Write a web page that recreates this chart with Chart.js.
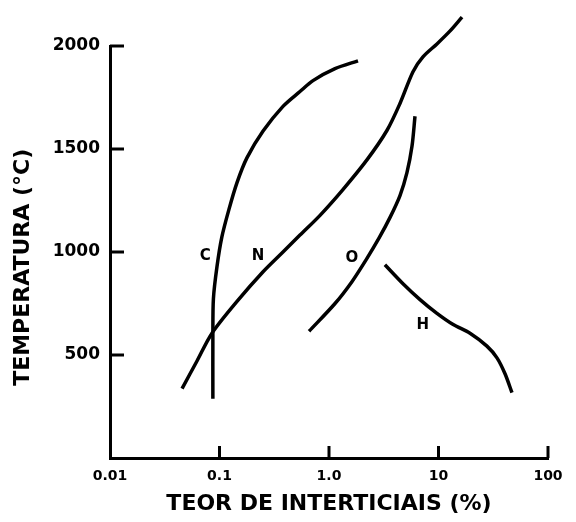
<!DOCTYPE html>
<html>
<head>
<meta charset="utf-8">
<script src="https://cdn.jsdelivr.net/npm/chart.js@4"></script>
<style>
  html, body { margin: 0; padding: 0; background: #fff; }
  #wrap { width: 576px; height: 522px; }
</style>
</head>
<body>
<div id="wrap"><canvas id="chart"></canvas></div>
<script>
// valores (teor em %, temperatura em °C)
const cTeor = [0.087, 0.087, 0.088, 0.0948, 0.105, 0.122, 0.1445, 0.178, 0.25, 0.38, 0.543, 0.714, 1.135, 1.84];
const cTemp = [288, 600, 774, 928, 1072, 1207, 1337, 1457, 1587, 1707, 1779, 1832, 1890, 1928];

const nTeor = [0.0455, 0.0623, 0.0854, 0.1445, 0.25, 0.38, 0.543, 0.828, 1.34, 2.22, 3.39, 4.45, 5.85, 7.21, 9.68, 12.7, 16.4];
const nTemp = [337, 471, 606, 760, 904, 1000, 1082, 1178, 1303, 1447, 1591, 1721, 1875, 1947, 2010, 2072, 2140];

const oTeor = [0.657, 1.135, 1.62, 2.18, 2.86, 3.61, 4.45, 5.15, 5.73, 6.1];
const oTemp = [615, 750, 856, 962, 1067, 1168, 1274, 1385, 1514, 1659];

const hTeor = [3.24, 4.74, 6.78, 9.68, 13.5, 19.4, 27.7, 34.2, 40.5, 46.9];
const hTemp = [938, 846, 769, 702, 649, 606, 543, 486, 409, 317];

const xTicks = [0.01, 0.1, 1, 10, 100];
const xTickLabels = ['0.01', '0.1', '1.0', '10', '100'];
const yTicks = [500, 1000, 1500, 2000];

// rótulos das curvas
const curveNames = ['C', 'N', 'O', 'H'];
const labelTeor = [0.074, 0.225, 1.62, 7.2];
const labelTemp = [978, 978, 968, 645];

const FONT = "'DejaVu Sans', sans-serif";

function pts(xs, ys) {
    return xs.map((x, i) => ({ x: x, y: ys[i] }));
}

function curve(label, xs, ys) {
    return {
        label: label,
        data: pts(xs, ys),
        borderColor: '#000',
        borderWidth: 3.5,
        pointRadius: 0,
        tension: 0.3,
        fill: false,
        clip: false
    };
}

// ticks voltados para dentro + letras das curvas
const extras = {
    id: 'extras',
    afterDatasetsDraw(chart) {
        const ctx = chart.ctx;
        const xs = chart.scales.x, ys = chart.scales.y;
        const a = chart.chartArea;
        ctx.save();
        ctx.strokeStyle = '#000';
        ctx.lineWidth = 3;
        yTicks.forEach(v => {
            const py = ys.getPixelForValue(v);
            ctx.beginPath();
            ctx.moveTo(a.left, py);
            ctx.lineTo(a.left + 14, py);
            ctx.stroke();
        });
        xTicks.slice(1).forEach(v => {
            const px = xs.getPixelForValue(v);
            ctx.beginPath();
            ctx.moveTo(px, a.bottom);
            ctx.lineTo(px, a.bottom - 12);
            ctx.stroke();
        });
        ctx.fillStyle = '#000';
        ctx.font = 'bold 15px ' + FONT;
        ctx.textAlign = 'center';
        ctx.textBaseline = 'middle';
        curveNames.forEach((n, i) => {
            ctx.fillText(n, xs.getPixelForValue(labelTeor[i]), ys.getPixelForValue(labelTemp[i]));
        });
        ctx.restore();
    }
};

new Chart(document.getElementById('chart'), {
    type: 'line',
    data: {
        datasets: [
            curve('C', cTeor, cTemp),
            curve('N', nTeor, nTemp),
            curve('O', oTeor, oTemp),
            curve('H', hTeor, hTemp)
        ]
    },
    options: {
        responsive: true,
        maintainAspectRatio: false,
        animation: false,
        layout: { padding: { top: 46, right: 28, left: 0, bottom: 0 } },
        plugins: {
            legend: { display: false },
            tooltip: { enabled: false }
        },
        scales: {
            x: {
                type: 'logarithmic',
                min: 0.01,
                max: 100,
                afterBuildTicks: s => { s.ticks = xTicks.map(v => ({ value: v })); },
                afterFit: s => { s.height = 64; },
                grid: { display: false, drawTicks: false },
                border: { display: true, color: '#000', width: 3 },
                ticks: {
                    color: '#000',
                    padding: 10,
                    maxRotation: 0,
                    font: { family: FONT, weight: 'bold', size: 14 },
                    callback: (v, i) => xTickLabels[i]
                },
                title: {
                    display: true,
                    text: 'TEOR DE INTERTICIAIS (%)',
                    color: '#000',
                    font: { family: FONT, weight: 'bold', size: 22 },
                    padding: { top: 0, bottom: 5 }
                }
            },
            y: {
                min: 0,
                max: 2000,
                afterBuildTicks: s => { s.ticks = yTicks.map(v => ({ value: v })); },
                afterFit: s => { s.width = 110; },
                grid: { display: false, drawTicks: false },
                border: { display: true, color: '#000', width: 3 },
                ticks: {
                    color: '#000',
                    padding: 10,
                    font: { family: FONT, weight: 'bold', size: 17 },
                    callback: v => String(v)
                },
                title: {
                    display: true,
                    text: 'TEMPERATURA (°C)    ',
                    color: '#000',
                    font: { family: FONT, weight: 'bold', size: 22 },
                    padding: { top: 10, bottom: 0 }
                }
            }
        }
    },
    plugins: [extras]
});
</script>
</body>
</html>
